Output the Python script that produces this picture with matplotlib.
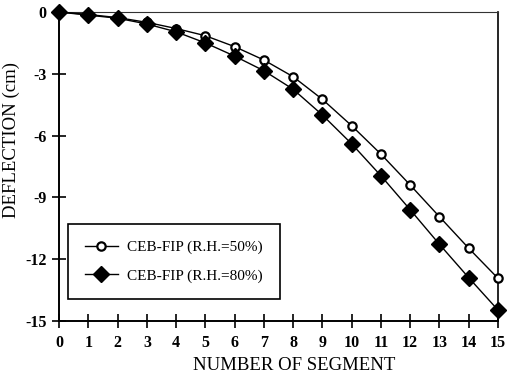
import matplotlib
matplotlib.use("Agg")
import matplotlib.pyplot as plt

segments = list(range(16))
rh50 = [0, -0.12, -0.27, -0.5, -0.8, -1.15, -1.68, -2.33, -3.14, -4.24, -5.52, -6.9, -8.4, -9.94, -11.47, -12.93]
rh80 = [0, -0.15, -0.3, -0.58, -0.96, -1.5, -2.14, -2.85, -3.75, -5.0, -6.4, -7.95, -9.6, -11.28, -12.9, -14.47]
xticks = list(range(16))
yticks = [0, -3, -6, -9, -12, -15]
labels = ["CEB-FIP (R.H.=50%)", "CEB-FIP (R.H.=80%)"]

plt.rcParams['font.family'] = ['Liberation Serif', 'DejaVu Serif']

fig = plt.figure(figsize=(5.11, 3.76), dpi=100)
ax = fig.add_axes([0.1155, 0.1463, 0.8591, 0.8217])

ax.plot(segments, rh50, color='black', lw=1.0, marker='o', markersize=6,
        markerfacecolor='white', markeredgecolor='black', markeredgewidth=1.6,
        label=labels[0], zorder=3)
ax.plot(segments, rh80, color='black', lw=1.0, marker='D', markersize=8,
        markerfacecolor='black', markeredgecolor='black', label=labels[1], zorder=3)

ax.set_xlim(0, 15)
ax.set_ylim(-15, 0)
ax.set_xticks(xticks)
ax.set_yticks(yticks)
ax.set_yticklabels([str(v) for v in yticks])
ax.tick_params(axis='both', direction='inout', length=10, width=1.2, labelsize=11.5)
for lab in ax.get_xticklabels() + ax.get_yticklabels():
    lab.set_fontweight('bold')
ax.tick_params(axis='x', pad=5)
ax.tick_params(axis='y', pad=4)

for s in ['left', 'bottom']:
    ax.spines[s].set_linewidth(1.4)
ax.spines['right'].set_linewidth(1.2)
ax.spines['top'].set_linewidth(0.8)
ax.spines['top'].set_color('#333333')
for s in ax.spines.values():
    s.set_clip_on(False)
for line in ax.get_lines():
    line.set_clip_on(False)

ax.set_xlabel("NUMBER OF SEGMENT", fontsize=13.5)
ax.set_ylabel("DEFLECTION (cm)", fontsize=13.5)
ax.xaxis.set_label_coords(0.535, -0.118)
ax.yaxis.set_label_coords(-0.088, 0.586)

leg = ax.legend(loc='lower left', bbox_to_anchor=(0.02, 0.07), fancybox=False,
                edgecolor='black', framealpha=1, fontsize=11, handlelength=2.2,
                borderpad=1.1, labelspacing=0.95, handletextpad=0.6, borderaxespad=0)
leg.get_frame().set_linewidth(1.2)

fig.savefig("out.png", dpi=100)
